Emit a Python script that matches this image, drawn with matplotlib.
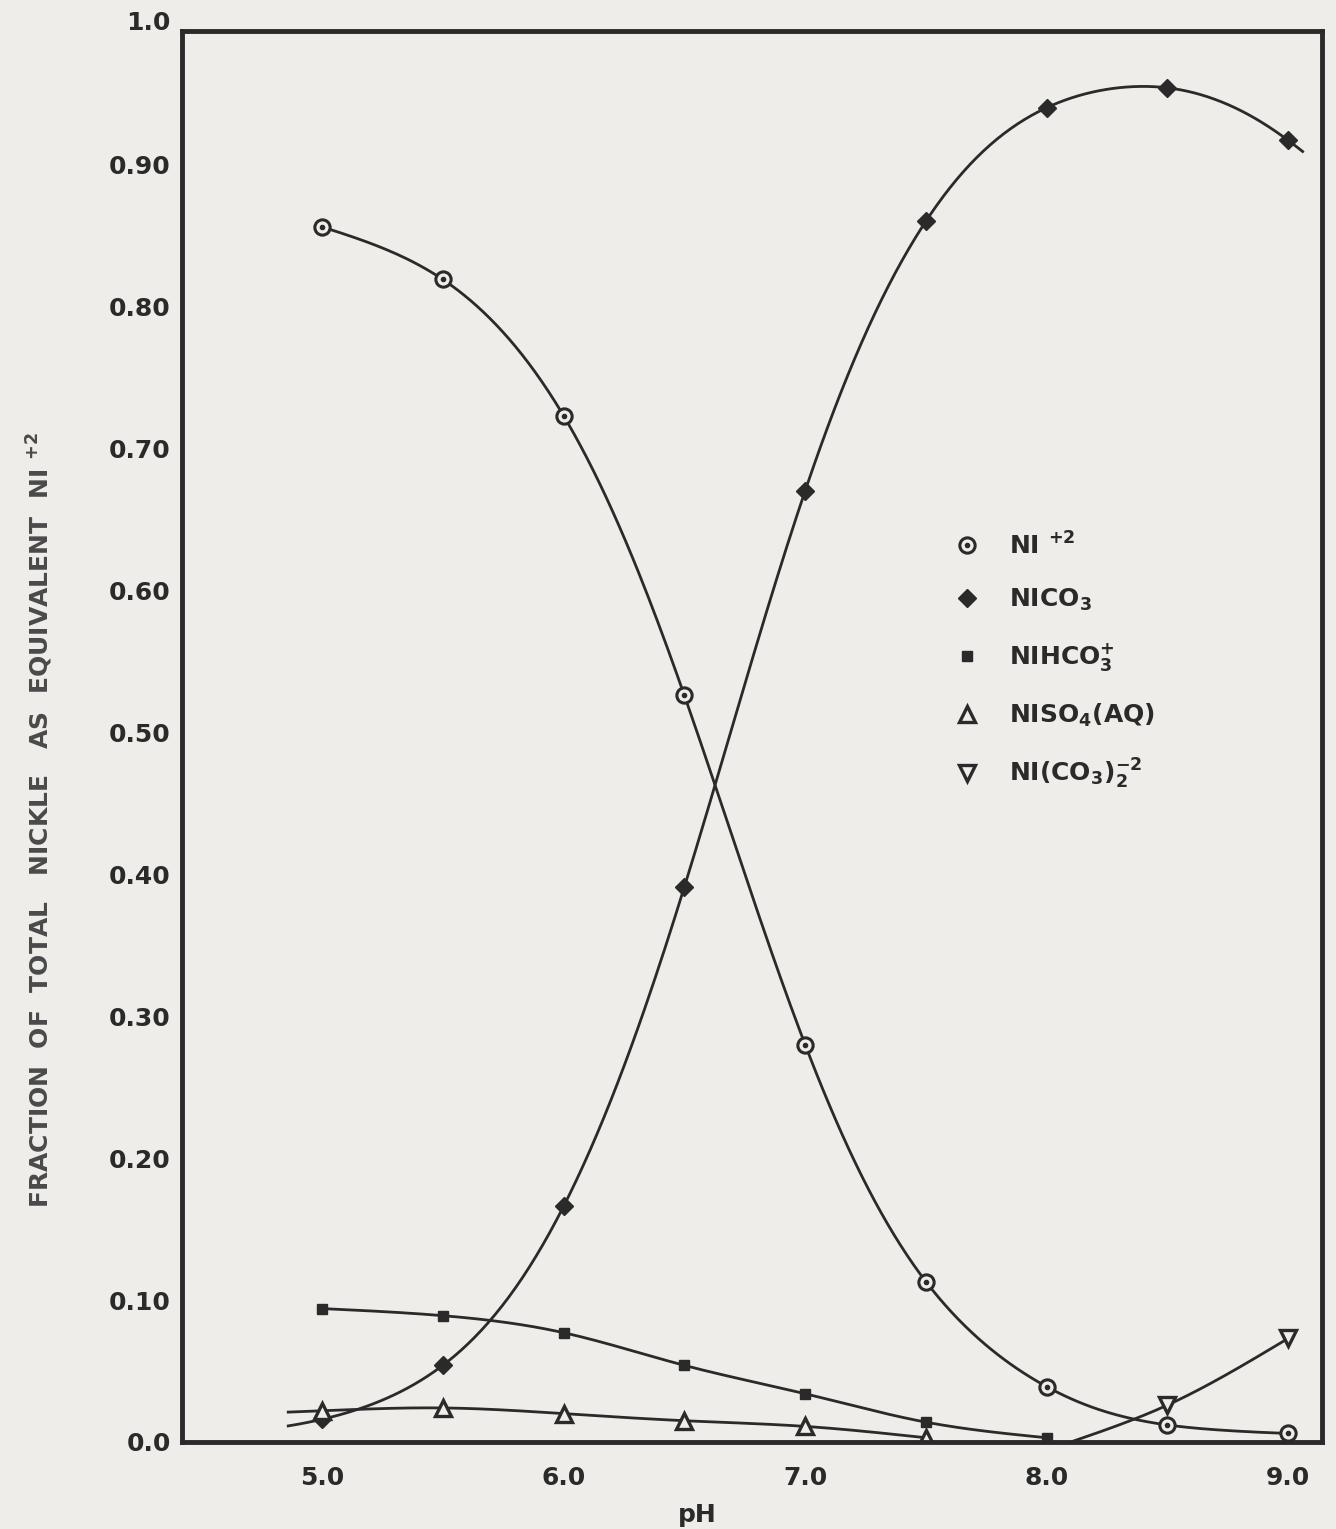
import numpy as np
import matplotlib
matplotlib.use("Agg")
import matplotlib.pyplot as plt
import matplotlib.transforms as mtransforms
from matplotlib.lines import Line2D

# Nickel speciation vs pH (fraction of total Ni as equivalent Ni+2)
ph = [5.0, 5.5, 6.0, 6.5, 7.0, 7.5, 8.0, 8.5, 9.0]
ni2 = [0.856, 0.819, 0.723, 0.526, 0.280, 0.113, 0.039, 0.012, 0.006]
nico3 = [0.016, 0.054, 0.166, 0.391, 0.670, 0.860, 0.940, 0.954, 0.917]

ph_hco3 = [5.0, 5.5, 6.0, 6.5, 7.0, 7.5, 8.0]
nihco3 = [0.094, 0.089, 0.077, 0.054, 0.034, 0.014, 0.003]

ph_so4 = [5.0, 5.5, 6.0, 6.5, 7.0, 7.5]
niso4 = [0.022, 0.024, 0.020, 0.015, 0.011, 0.003]

ph_dicarb = [8.1, 8.5, 9.0]
nidicarb = [0.0, 0.026, 0.073]

labels = [r"NI $^{+2}$", r"NICO$_3$", r"NIHCO$_3^{+}$", r"NISO$_4$(AQ)",
          r"NI(CO$_3$)$_2^{-2}$"]
xticks = [5.0, 6.0, 7.0, 8.0, 9.0]
yticks = [0.0, 0.1, 0.2, 0.3, 0.4, 0.5, 0.6, 0.7, 0.8, 0.9]
yticklabels = ["0.0", "0.10", "0.20", "0.30", "0.40", "0.50", "0.60",
               "0.70", "0.80", "0.90"]

INK = "#2a2a2a"
PAPER = "#efede9"

plt.rcParams["font.family"] = "DejaVu Sans"
plt.rcParams["font.weight"] = "bold"
plt.rcParams["mathtext.fontset"] = "dejavusans"
plt.rcParams["mathtext.default"] = "bf"


def spline(x, y, xs):
    """Natural cubic spline through (x, y), evaluated at xs."""
    x = np.asarray(x, float)
    y = np.asarray(y, float)
    n = len(x)
    h = np.diff(x)
    A = np.zeros((n, n))
    r = np.zeros(n)
    A[0, 0] = A[-1, -1] = 1.0
    for i in range(1, n - 1):
        A[i, i - 1] = h[i - 1]
        A[i, i] = 2 * (h[i - 1] + h[i])
        A[i, i + 1] = h[i]
        r[i] = 3 * ((y[i + 1] - y[i]) / h[i] - (y[i] - y[i - 1]) / h[i - 1])
    c = np.linalg.solve(A, r)
    b = (y[1:] - y[:-1]) / h - h * (2 * c[:-1] + c[1:]) / 3
    d = (c[1:] - c[:-1]) / (3 * h)
    k = np.clip(np.searchsorted(x, xs) - 1, 0, n - 2)
    dx = xs - x[k]
    return y[k] + b[k] * dx + c[k] * dx ** 2 + d[k] * dx ** 3


def logit_spline(x, y, xs):
    # sigmoid-shaped species look smoother when splined in logit space
    y = np.asarray(y, float)
    z = spline(x, np.log(y / (1 - y)), xs)
    return 1 / (1 + np.exp(-z))


fig = plt.figure(figsize=(13.36, 15.29), dpi=100, facecolor=PAPER)
ax = fig.add_axes([0.1362, 0.0569, 0.8533, 0.9228], facecolor=PAPER)

line_kw = dict(color=INK, lw=2.0)

# smooth curves through each species
for fit, x, y, lo, hi in [(logit_spline, ph, ni2, 5.0, 9.0),
                          (logit_spline, ph, nico3, 4.86, 9.06),
                          (spline, ph_hco3, nihco3, 5.0, 8.0),
                          (spline, ph_so4, niso4, 4.86, 7.5),
                          (spline, ph_dicarb, nidicarb, 8.1, 9.0)]:
    xs = np.linspace(lo, hi, 300)
    ax.plot(xs, np.clip(fit(x, y, xs), 0, None), **line_kw)

# data points
ring = ax.plot(ph, ni2, ls="none", marker="o", ms=11, mew=2.2, mec=INK,
               mfc=PAPER)[0]
dot = ax.plot(ph, ni2, ls="none", marker="o", ms=3, color=INK)[0]
dia = ax.plot(ph, nico3, ls="none", marker="D", ms=9, color=INK)[0]
sq = ax.plot(ph_hco3, nihco3, ls="none", marker="s", ms=7.5, color=INK)[0]
tri = ax.plot(ph_so4, niso4, ls="none", marker="^", ms=11, mew=2.4, mec=INK,
              mfc=PAPER)[0]
vtri = ax.plot(ph_dicarb[1:], nidicarb[1:], ls="none", marker="v", ms=12,
               mew=2.4, mec=INK, mfc=PAPER)[0]

ax.set_xlim(4.42, 9.14)
ax.set_ylim(0, 0.994)
ax.set_xticks(xticks)
ax.set_xticklabels([f"{t:.1f}" for t in xticks])
ax.set_yticks(yticks)
ax.set_yticklabels(yticklabels)
ax.tick_params(axis="both", length=0, labelsize=18, colors=INK)
ax.tick_params(axis="x", pad=17)
ax.tick_params(axis="y", pad=8)
for sp in ax.spines.values():
    sp.set_linewidth(3.5)
    sp.set_color(INK)

# the 1.0 label sits just above the frame
trans = mtransforms.offset_copy(
    mtransforms.blended_transform_factory(ax.transAxes, ax.transData),
    fig=fig, x=-8, y=0, units="points")
ax.text(0, 1.0, "1.0", transform=trans, ha="right", va="center",
        fontsize=18, color=INK, clip_on=False)

fig.text(0.030, 0.4637,
         r"FRACTION  OF  TOTAL   NICKLE   AS  EQUIVALENT  NI $^{+2}$",
         rotation=90, ha="center", va="center", fontsize=18, color="#4a4a4a")
fig.text(0.5217, 0.0092, "pH", ha="center", va="center", fontsize=18,
         color=INK)

handles = [(ring, dot),
           Line2D([], [], ls="none", marker="D", ms=9, color=INK),
           Line2D([], [], ls="none", marker="s", ms=7.5, color=INK),
           Line2D([], [], ls="none", marker="^", ms=11, mew=2.4, mec=INK,
                  mfc=PAPER),
           Line2D([], [], ls="none", marker="v", ms=12, mew=2.4, mec=INK,
                  mfc=PAPER)]
ax.legend(handles, labels, loc="upper left",
          bbox_to_anchor=(952 / 1336, 1 - 532 / 1529),
          bbox_transform=fig.transFigure, frameon=False, borderpad=0,
          borderaxespad=0, handlelength=1.2, handletextpad=1.1,
          labelspacing=1.12, fontsize=18, labelcolor=INK)

fig.savefig("out.png", dpi=100, facecolor=PAPER)
